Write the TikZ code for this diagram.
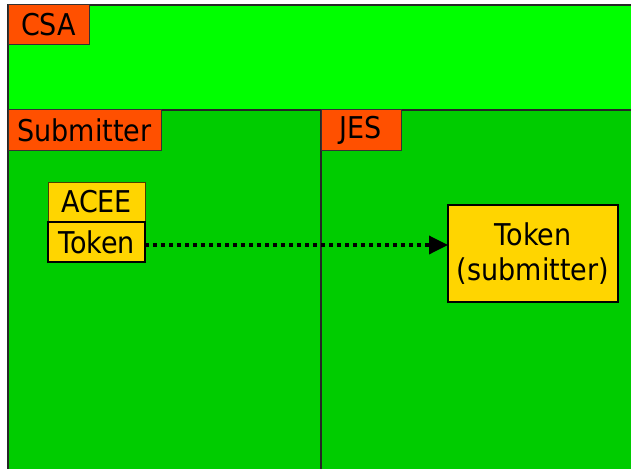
\documentclass[tikz,border=0pt]{standalone}
\usepackage{fontspec}
\setmainfont{DejaVu Sans}[FakeStretch=0.9]
\usetikzlibrary{arrows.meta}
\definecolor{csagreen}{RGB}{0,255,0}
\definecolor{regiongreen}{RGB}{0,204,0}
\definecolor{tagred}{RGB}{255,80,0}
\definecolor{tokenyellow}{RGB}{255,213,0}
\begin{document}
\begin{tikzpicture}[x=1pt,y=-1pt,
  every node/.style={font=\fontsize{30}{35}\selectfont, inner sep=0pt, outer sep=0pt},
  region/.style={draw=black!85, line width=1.2pt, anchor=north west},
  tag/.style={draw=black!80, line width=1pt, fill=tagred, anchor=north west, minimum height=40pt},
  cell/.style={draw=black, fill=tokenyellow, anchor=north west, minimum width=97pt, minimum height=40pt},
  flow/.style={line width=3.5pt, dash pattern=on 4pt off 4pt, -{Triangle[length=19pt,width=18pt]}}]
  \useasboundingbox (0,0) rectangle (631,468);
  \clip (0,0) rectangle (631,468);
  \fill[white] (0,0) rectangle (631,468);

  % address spaces
  \node[region, fill=csagreen, minimum width=640pt, minimum height=105pt] (csa) at (8,5) {};
  \node[region, fill=regiongreen, minimum width=313pt, minimum height=380pt] (subm) at (8,110) {};
  \node[region, fill=regiongreen, minimum width=330pt, minimum height=380pt] (jes) at (321,110) {};

  % region titles
  \node[tag, minimum width=81pt] (csatag) at (csa.north west) {CSA};
  \node[tag, minimum width=153pt] (submtag) at (subm.north west) {Submitter};
  \node[tag, minimum width=80pt] (jestag) at (jes.north west) {JES};

  % control blocks
  \node[cell, draw=black!70!tokenyellow, line width=1pt] (acee) at (48,182) {ACEE};
  \node[cell, line width=2pt] (token) at (acee.south west) {Token};
  \node[cell, line width=2pt, minimum width=170pt, minimum height=97pt, align=center] (tokensub) at (448,205) {Token\\(submitter)};

  % token propagation
  \draw[flow] ([yshift=-3pt]token.east) -- ([yshift=-3pt]token.east -| tokensub.west);
\end{tikzpicture}
\end{document}
